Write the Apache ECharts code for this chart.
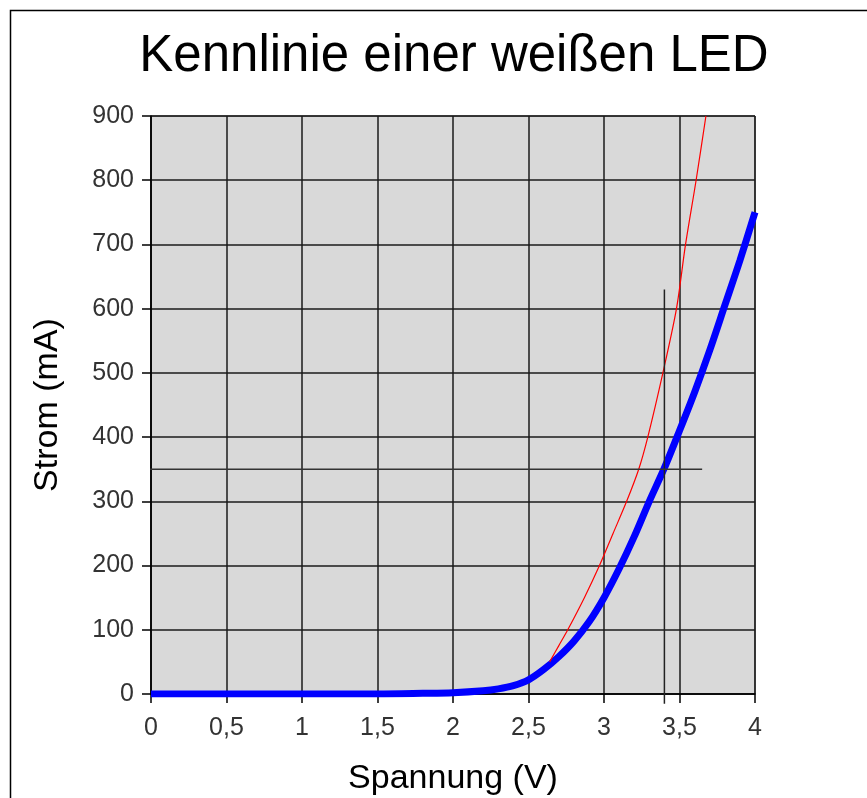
<!DOCTYPE html>
<html><head><meta charset="utf-8">
<script src="https://cdn.jsdelivr.net/npm/echarts@6/dist/echarts.min.js"></script>
<style>html,body{margin:0;padding:0;background:#fff}#c{width:867px;height:798px}</style>
</head><body><div id="c"></div>
<script>
const titleText = 'Kennlinie einer weißen LED';
const xName = 'Spannung (V)';
const yName = 'Strom (mA)';
const xTicks = [0, 0.5, 1, 1.5, 2, 2.5, 3, 3.5, 4];
const yTicks = [0, 100, 200, 300, 400, 500, 600, 700, 800, 900];
// measured curve (blue)
const measU = [0, 0.5, 1, 1.5, 1.8, 2.0, 2.2, 2.3, 2.4, 2.5, 2.6, 2.7, 2.8, 2.9, 3.0, 3.1, 3.2, 3.3, 3.4, 3.5, 3.6, 3.7, 3.8, 3.9, 4.0];
const measI = [0, 0, 0, 0, 1, 2, 5, 8, 13, 22, 38, 58, 82, 112, 150, 195, 245, 300, 352, 410, 470, 535, 605, 675, 750];
// comparison curve (red)
const redU = [2.64, 2.7, 2.76, 2.87, 2.97, 3.06, 3.15, 3.23, 3.29, 3.39, 3.48, 3.54, 3.61, 3.675];
const redI = [50, 75, 100, 150, 200, 250, 300, 350, 400, 500, 600, 700, 800, 900];
// operating point marker lines
const vLineU = [3.4, 3.4];
const vLineI = [630, -15];
const hLineU = [-0.04, 3.65];
const hLineI = [350, 350];

const zip = (a, b) => a.map((v, i) => [v, b[i]]);
const fmt = v => String(v).replace('.', ',');
const chart = echarts.init(document.getElementById('c'));
const font = 'Liberation Sans, Arial, sans-serif';
chart.setOption({
  animation: false,
  backgroundColor: '#fff',
  title: {text: titleText, left: 449, top: 26, textAlign: 'center',
    textStyle: {fontFamily: font, fontSize: 51, fontWeight: 'normal', color: '#000'}},
  graphic: [{type: 'rect', shape: {x: 10.5, y: 10.5, width: 1000, height: 1000},
    style: {fill: 'none', stroke: '#000', lineWidth: 1.5}, silent: true, z: -1}],
  grid: {left: 151, right: 112, top: 116, bottom: 104, show: true, containLabel: false,
    outerBoundsMode: 'none',
    backgroundColor: '#d9d9d9', borderColor: '#222', borderWidth: 1},
  xAxis: {type: 'value', min: 0, max: 4, interval: 0.5,
    name: xName, nameLocation: 'middle', nameGap: 68,
    nameTextStyle: {fontFamily: font, fontSize: 34, color: '#000'},
    axisLine: {show: true, onZero: false, lineStyle: {color: '#000', width: 1.5}},
    axisTick: {show: true, length: 9, lineStyle: {color: '#000', width: 1.5}},
    axisLabel: {fontFamily: font, fontSize: 25, color: '#333', margin: 22, formatter: v => fmt(v)},
    splitLine: {show: true, lineStyle: {color: '#1a1a1a', width: 1.5}}},
  yAxis: {type: 'value', min: 0, max: 900, interval: 100,
    name: yName, nameLocation: 'middle', nameGap: 86, nameRotate: 90,
    nameTextStyle: {fontFamily: font, fontSize: 34, color: '#000'},
    axisLine: {show: true, onZero: false, lineStyle: {color: '#000', width: 1.5}},
    axisTick: {show: true, length: 9, lineStyle: {color: '#000', width: 1.5}},
    axisLabel: {fontFamily: font, fontSize: 25, color: '#333', margin: 17},
    splitLine: {show: true, lineStyle: {color: '#1a1a1a', width: 1.5}}},
  series: [
    {type: 'line', data: zip(measU, measI), smooth: 0.3, symbol: 'none',
      lineStyle: {color: '#0000ff', width: 7}, z: 3},
    {type: 'line', data: zip(redU, redI), smooth: 0.3, symbol: 'none',
      lineStyle: {color: '#ff0000', width: 1.2}, z: 4},
    {type: 'line', data: zip(vLineU, vLineI), symbol: 'none', clip: false,
      lineStyle: {color: '#222', width: 1.5}, z: 5},
    {type: 'line', data: zip(hLineU, hLineI), symbol: 'none', clip: false,
      lineStyle: {color: '#333', width: 1.5}, z: 5}
  ]
});
</script></body></html>
